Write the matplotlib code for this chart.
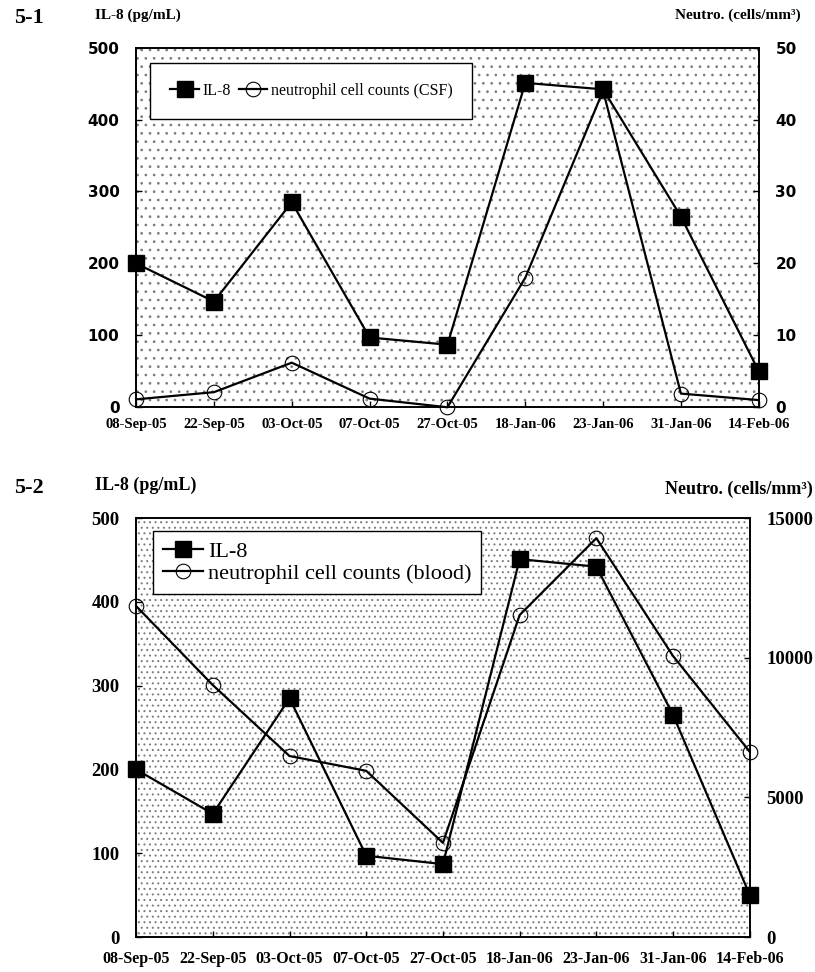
import matplotlib
matplotlib.use("Agg")
import matplotlib.pyplot as plt
from matplotlib.patches import Rectangle

dates = ["08-Sep-05", "22-Sep-05", "03-Oct-05", "07-Oct-05", "27-Oct-05",
         "18-Jan-06", "23-Jan-06", "31-Jan-06", "14-Feb-06"]
il8 = [200, 147, 285, 97, 87, 451, 442, 265, 50]
csf_neutro = [1.1, 2.1, 6.2, 1.2, 0.0, 18.0, 44.0, 1.9, 1.0]
blood_neutro = [11850, 9020, 6480, 5950, 3370, 11530, 14280, 10060, 6630]

left_ticks = [0, 100, 200, 300, 400, 500]
csf_ticks = [0, 10, 20, 30, 40, 50]
blood_ticks = [0, 5000, 10000, 15000]

serif = "Liberation Serif"
plt.rcParams["hatch.linewidth"] = 0.7

fig = plt.figure(figsize=(8.15, 9.72), dpi=100)
x = list(range(len(dates)))


def draw_panel(rect, right_vals, right_ticks, right_max, label2, tick_font,
               tick_size, xtick_size, legend_size, ncol, hatch, pad,
               border, anchor_y):
    ax = fig.add_axes(rect)
    ax2 = ax.twinx()
    # speckled scan background
    ax.add_patch(Rectangle((0, 0), 1, 1, transform=ax.transAxes,
                           facecolor="white", edgecolor="#7a7a7a", lw=0,
                           hatch=hatch, zorder=0))
    l1, = ax.plot(x, il8, color="black", lw=1.6, marker="s", ms=11,
                  mfc="black", mec="black", clip_on=False, zorder=3,
                  label="IL-8")
    l2, = ax2.plot(x, right_vals, color="black", lw=1.6, marker="o",
                   ms=10.5, mfc="none", mec="black", mew=0.8, clip_on=False,
                   zorder=3, label=label2)
    ax.set_xlim(0, 8)
    ax.set_ylim(0, 500)
    ax2.set_ylim(0, right_max)
    ax.set_yticks(left_ticks)
    ax2.set_yticks(right_ticks)
    ax.set_xticks(x)
    ax.set_xticklabels(dates, fontfamily=serif, fontweight="bold",
                       fontsize=xtick_size)
    ax.set_yticklabels([str(v) for v in left_ticks], fontfamily=tick_font,
                       fontweight="bold", fontsize=tick_size)
    ax2.set_yticklabels([str(v) for v in right_ticks], fontfamily=tick_font,
                        fontweight="bold", fontsize=tick_size)
    ax.tick_params(axis="both", direction="in", length=4, width=1)
    ax.tick_params(axis="y", pad=12)
    ax.tick_params(axis="x", pad=pad)
    ax2.tick_params(axis="y", direction="in", length=4, width=1, pad=12)
    for a in (ax, ax2):
        for s in a.spines.values():
            s.set_linewidth(1.2)
    leg = ax2.legend([l1, l2], ["IL-8", label2], loc="upper left", ncol=ncol,
                     prop={"family": serif, "size": legend_size},
                     frameon=True, fancybox=False, edgecolor="black",
                     framealpha=1, handlelength=1.8, handletextpad=0.2,
                     columnspacing=0.5, borderpad=border, labelspacing=0.05,
                     bbox_to_anchor=(0.01, anchor_y))
    leg.get_frame().set_linewidth(1.0)
    return ax, ax2


draw_panel([0.167, 0.581, 0.764, 0.370], csf_neutro, csf_ticks, 50,
           "neutrophil cell counts (CSF)", "DejaVu Sans", 11, 10.5, 11.5, 2,
           "..", 8, 1.25, 0.98)
draw_panel([0.167, 0.036, 0.753, 0.431], blood_neutro, blood_ticks, 15000,
           "neutrophil cell counts (blood)", serif, 13.5, 11.5, 16, 1,
           "...", 10, 0.45, 0.995)

fig.text(0.017, 0.981, "5-1", fontfamily=serif, fontweight="bold",
         fontsize=16, va="center")
fig.text(0.117, 0.984, "IL-8 (pg/mL)", fontfamily=serif, fontweight="bold",
         fontsize=11, va="center")
fig.text(0.982, 0.984, "Neutro. (cells/mm³)", fontfamily=serif,
         fontweight="bold", fontsize=11, va="center", ha="right")

fig.text(0.017, 0.498, "5-2", fontfamily=serif, fontweight="bold",
         fontsize=16, va="center")
fig.text(0.117, 0.501, "IL-8 (pg/mL)", fontfamily=serif, fontweight="bold",
         fontsize=13, va="center")
fig.text(0.997, 0.497, "Neutro. (cells/mm³)", fontfamily=serif,
         fontweight="bold", fontsize=13, va="center", ha="right")

fig.savefig("out.png", dpi=100)
